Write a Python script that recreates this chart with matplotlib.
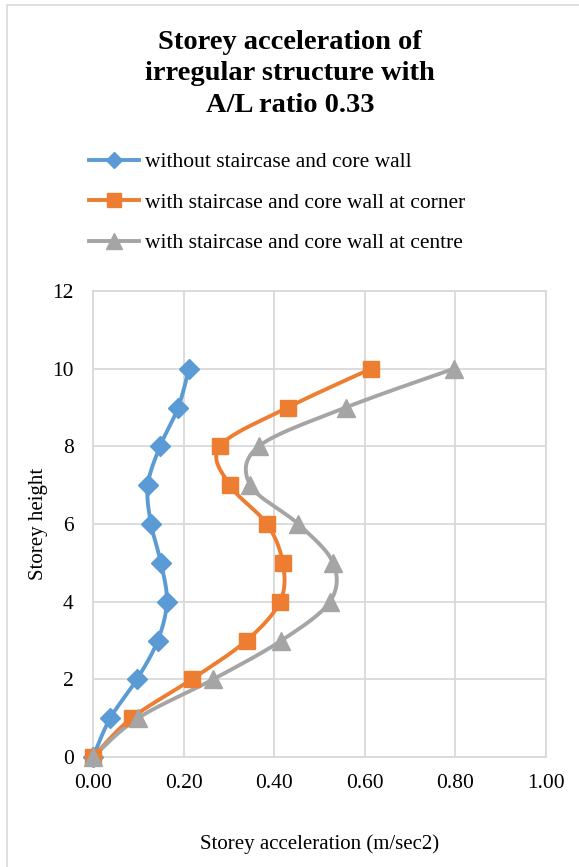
import numpy as np
import matplotlib
matplotlib.use("Agg")
import matplotlib.pyplot as plt
from matplotlib.patches import Rectangle

plt.rcParams["font.family"] = ["Liberation Serif", "DejaVu Serif"]

# storey levels and accelerations (m/sec2)
storeys = [0, 1, 2, 3, 4, 5, 6, 7, 8, 9, 10]
acc_plain = [0.0, 0.038, 0.097, 0.143, 0.163, 0.150, 0.128, 0.121, 0.148, 0.188, 0.212]
acc_corner = [0.0, 0.085, 0.218, 0.339, 0.413, 0.419, 0.384, 0.302, 0.280, 0.430, 0.614]
acc_centre = [0.0, 0.099, 0.265, 0.416, 0.523, 0.530, 0.453, 0.347, 0.366, 0.558, 0.797]

labels = ["without staircase and core wall",
          "with staircase and core wall at corner",
          "with staircase and core wall at centre"]
colors = ["#5B9BD5", "#ED7D31", "#A5A5A5"]
markers = ["D", "s", "^"]
msizes = [10, 12, 13]

x_ticks = [0.0, 0.2, 0.4, 0.6, 0.8, 1.0]
y_ticks = [0, 2, 4, 6, 8, 10, 12]

W, H = 579, 867
fig = plt.figure(figsize=(W / 100, H / 100), dpi=100)

# chart frame (left / top edge visible like the Excel crop)
fig.patches.append(Rectangle((7 / W, -0.01), 1.1, (867 - 5) / H + 0.01,
                             transform=fig.transFigure, fill=False,
                             edgecolor="#D9D9D9", linewidth=1.2))

ax = fig.add_axes([93 / W, (H - 757) / H, 453 / W, 466 / H])
ax.set_xlim(0, 1.0)
ax.set_ylim(0, 12)


def smooth(xs, ys, n=20):
    # Excel-like smoothed line: cubic Bezier through points, built in display space
    pts = ax.transData.transform(np.column_stack([xs, ys]))
    P = np.vstack([pts[0], pts, pts[-1]])
    out = []
    for i in range(1, len(P) - 2):
        p0, p1, p2, p3 = P[i - 1], P[i], P[i + 1], P[i + 2]
        c1 = p1 + (p2 - p0) / 6
        c2 = p2 - (p3 - p1) / 6
        t = np.linspace(0, 1, n)[:, None]
        seg = ((1 - t) ** 3) * p1 + 3 * ((1 - t) ** 2) * t * c1 + 3 * (1 - t) * t ** 2 * c2 + t ** 3 * p2
        out.append(seg if i == 1 else seg[1:])
    out = np.vstack(out)
    d = ax.transData.inverted().transform(out)
    return d[:, 0], d[:, 1]


for xs, lab, c, m, ms in zip([acc_plain, acc_corner, acc_centre], labels, colors, markers, msizes):
    sx, sy = smooth(xs, storeys)
    ax.plot(sx, sy, color=c, linewidth=2.8, zorder=3, clip_on=False)
    ax.plot(xs, storeys, linestyle="none", marker=m, markersize=ms, color=c,
            markeredgecolor=c, zorder=4, clip_on=False)
    ax.plot([], [], color=c, linewidth=2.8, marker=m, markersize=ms - 2, label=lab)

ax.set_xticks(x_ticks)
ax.set_xticklabels([f"{v:.2f}" for v in x_ticks])
ax.set_yticks(y_ticks)
ax.grid(True, color="#D9D9D9", linewidth=1.3, zorder=0)
ax.set_axisbelow(True)
for s in ax.spines.values():
    s.set_color("#D9D9D9")
    s.set_linewidth(1.3)
ax.tick_params(length=0, labelsize=15.5, pad=12, colors="black")
ax.tick_params(axis="y", pad=14)

ax.set_xlabel("Storey acceleration (m/sec2)", fontsize=15, labelpad=30)
ax.set_ylabel("Storey height", fontsize=15, labelpad=3)

fig.text(290 / W, 1 - 30 / H, "Storey acceleration of\nirregular structure with\nA/L ratio 0.33",
         ha="center", va="top", fontsize=20.5, fontweight="bold", linespacing=1.33)

fig.legend(loc="upper left", bbox_to_anchor=(89 / W, 1 - 152 / H), frameon=False,
           fontsize=15.5, handlelength=2.3, handletextpad=0.3, labelspacing=0.95,
           borderpad=0, borderaxespad=0)

fig.savefig("out.png", dpi=100)
